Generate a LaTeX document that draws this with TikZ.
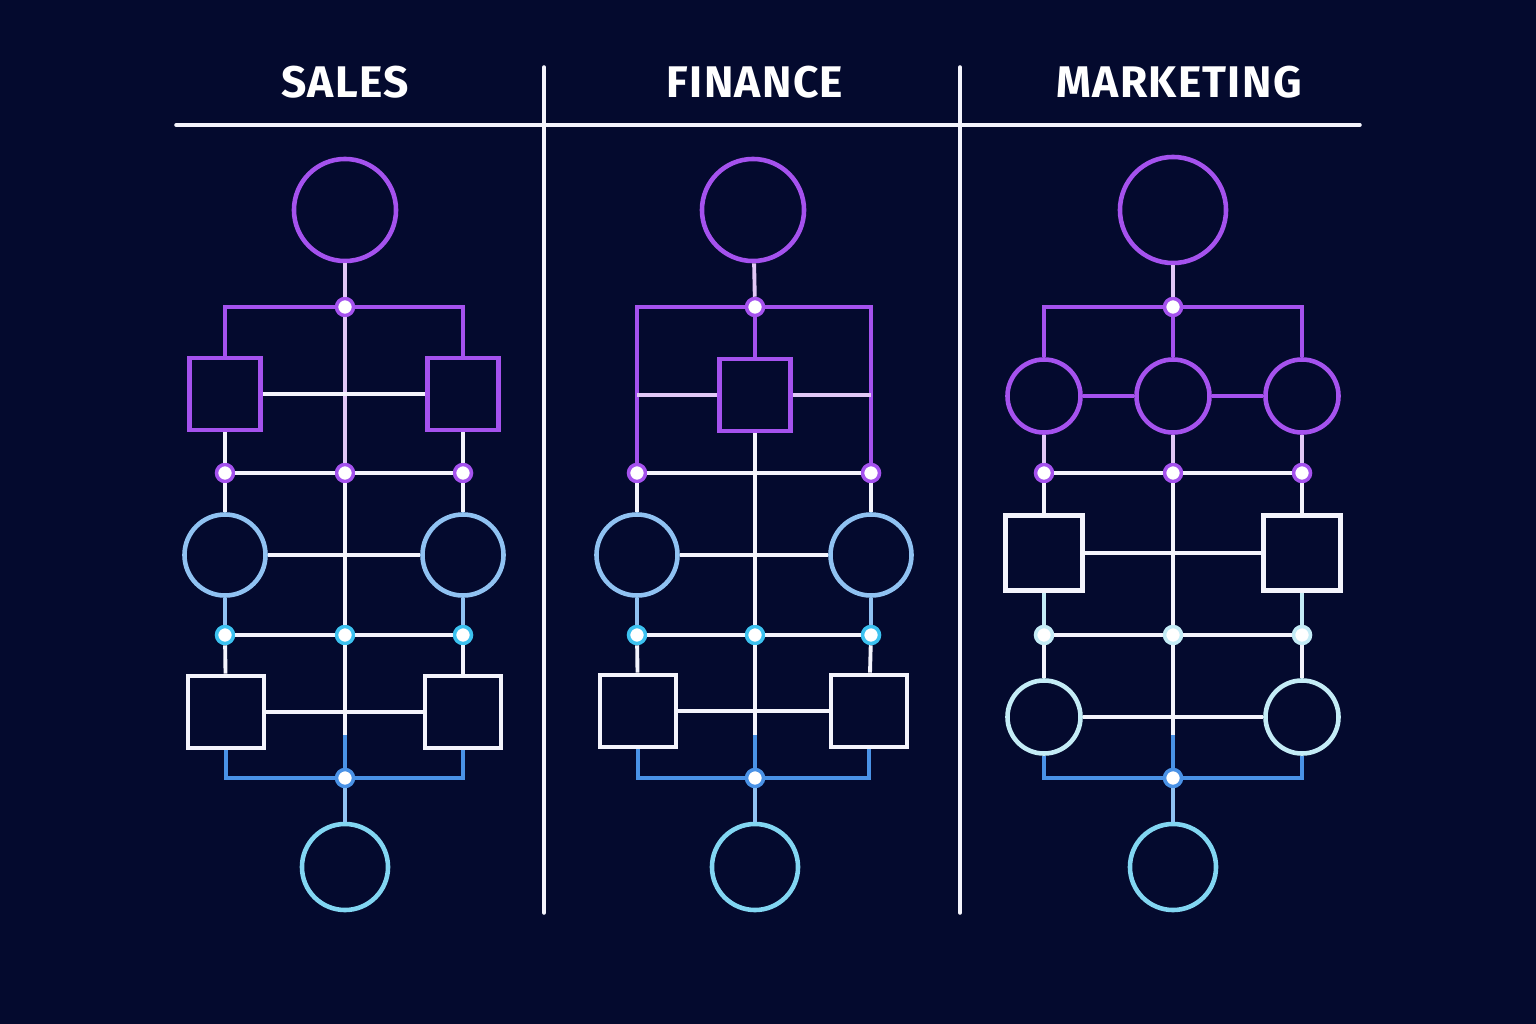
\documentclass[tikz,border=0pt]{standalone}
\usepackage{fontspec}
\setmainfont{Fira Sans}
\newfontfamily\headfont[LetterSpace=3]{Fira Sans}
\definecolor{bg}{HTML}{040A2E}
\definecolor{purp}{HTML}{A552EE}
\definecolor{lilac}{HTML}{E2C8F6}
\definecolor{skyb}{HTML}{90C2F2}
\definecolor{cyanring}{HTML}{3CC2F0}
\definecolor{paleaqua}{HTML}{C4ECF6}
\definecolor{barblue}{HTML}{4A92E6}
\definecolor{aqua}{HTML}{82D6F2}
\definecolor{offwhite}{HTML}{F4F4FC}

\begin{document}
\begin{tikzpicture}[x=0.01cm, y=-0.01cm,
    bigc/.style={circle, draw=#1, line width=1.3pt, fill=bg, inner sep=0pt, minimum size=1.02cm},
    midc/.style={circle, draw=#1, line width=1.3pt, fill=bg, inner sep=0pt, minimum size=0.81cm},
    smallc/.style={circle, draw=#1, line width=1.3pt, fill=bg, inner sep=0pt, minimum size=0.73cm},
    botc/.style={circle, draw=aqua, line width=1.3pt, fill=bg, inner sep=0pt, minimum size=0.86cm},
    sqbox/.style={rectangle, draw=#1, line width=1.3pt, fill=bg, inner sep=0pt, minimum width=0.71cm, minimum height=0.72cm},
    wbox/.style={rectangle, draw=offwhite, line width=1.3pt, fill=bg, inner sep=0pt, minimum width=0.76cm, minimum height=0.72cm},
    jdot/.style={circle, draw=#1, line width=1pt, fill=white, inner sep=0pt, minimum size=0.17cm},
    link/.style={draw=#1, line width=1.1pt},
    rule/.style={draw=offwhite, line width=1pt, line cap=round},
    title/.style={text=white, font=\headfont\bfseries\fontsize{12.6}{15}\selectfont}]
    \fill[bg] (0,0) rectangle (1536,1024);
    \useasboundingbox (0,0) rectangle (1536,1024);

    % headers
    \node[title]  (tsales) at (345,82)  {SALES};
    \node[title]  (tfin)   at (755,82)  {FINANCE};
    \node[title]  (tmkt)   at (1179,82) {MARKETING};
    \coordinate (hl)  at (176,125);
    \coordinate (hr)  at (1360,125);
    \coordinate (d1t) at (544,67);
    \coordinate (d1b) at (544,913);
    \coordinate (d2t) at (960,67);
    \coordinate (d2b) at (960,913);
    \draw[rule] (hl)  -- (hr);
    \draw[rule] (d1t) -- (d1b);
    \draw[rule] (d2t) -- (d2b);

    % sales
    \node[bigc=purp]      (stop)  at (345,210) {};
    \node[jdot=purp]      (sd1)   at (345,307) {};
    \node[sqbox=purp]     (sbl)   at (225,394) {};
    \node[sqbox=purp]     (sbr)   at (463,394) {};
    \node[jdot=purp]      (sdl2)  at (225,473) {};
    \node[jdot=purp]      (sdc2)  at (345,473) {};
    \node[jdot=purp]      (sdr2)  at (463,473) {};
    \node[midc=skyb]      (scl)   at (225,555) {};
    \node[midc=skyb]      (scr)   at (463,555) {};
    \node[jdot=cyanring]  (sdl3)  at (225,635) {};
    \node[jdot=cyanring]  (sdc3)  at (345,635) {};
    \node[jdot=cyanring]  (sdr3)  at (463,635) {};
    \node[wbox]           (swl)   at (226,712) {};
    \node[wbox]           (swr)   at (463,712) {};
    \node[jdot=barblue]   (sd4)   at (345,778) {};
    \node[botc]           (sbot)  at (345,867) {};
    \coordinate (sbend) at (345,735);
    \draw[link=lilac]    (stop) -- (sd1);
    \draw[link=purp]     (sd1) -| (sbl);
    \draw[link=purp]     (sd1) -| (sbr);
    \draw[link=lilac]    (sd1) -- (sdc2);
    \draw[link=offwhite] (sbl) -- (sbr);
    \draw[link=offwhite] (sbl) -- (sdl2);
    \draw[link=offwhite] (sbr) -- (sdr2);
    \draw[link=offwhite] (sdl2) -- (sdc2) -- (sdr2);
    \draw[link=offwhite] (sdl2) -- (scl);
    \draw[link=offwhite] (sdr2) -- (scr);
    \draw[link=offwhite] (scl) -- (scr);
    \draw[link=skyb]     (scl) -- (sdl3);
    \draw[link=skyb]     (scr) -- (sdr3);
    \draw[link=offwhite] (sdc2) -- (sdc3);
    \draw[link=offwhite] (sdl3) -- (sdc3) -- (sdr3);
    \draw[link=offwhite] (sdl3) -- (swl);
    \draw[link=offwhite] (sdr3) -- (swr);
    \draw[link=offwhite] (swl) -- (swr);
    \draw[link=offwhite] (sdc3) -- (sbend);
    \draw[link=barblue]  (sbend) -- (sd4);
    \draw[link=barblue]  (swl) |- (sd4) -| (swr);
    \draw[link=skyb]     (sd4) -- (sbot);

    % finance
    \node[bigc=purp]      (ftop)  at (753,210) {};
    \node[jdot=purp]      (fd1)   at (755,307) {};
    \node[sqbox=purp]     (fbox)  at (755,395) {};
    \node[jdot=purp]      (fdl2)  at (637,473) {};
    \node[jdot=purp]      (fdr2)  at (871,473) {};
    \node[midc=skyb]      (fcl)   at (637,555) {};
    \node[midc=skyb]      (fcr)   at (871,555) {};
    \node[jdot=cyanring]  (fdl3)  at (637,635) {};
    \node[jdot=cyanring]  (fdc3)  at (755,635) {};
    \node[jdot=cyanring]  (fdr3)  at (871,635) {};
    \node[wbox]           (fwl)   at (638,711) {};
    \node[wbox]           (fwr)   at (869,711) {};
    \node[jdot=barblue]   (fd4)   at (755,778) {};
    \node[botc]           (fbot)  at (755,867) {};
    \coordinate (fml)   at (637,395);
    \coordinate (fmr)   at (871,395);
    \coordinate (fbend) at (755,735);
    \draw[link=lilac]    (ftop) -- (fd1);
    \draw[link=purp]     (fd1) -| (fdl2);
    \draw[link=purp]     (fd1) -| (fdr2);
    \draw[link=purp]     (fd1) -- (fbox);
    \draw[link=lilac]    (fml) -- (fbox);
    \draw[link=lilac]    (fbox) -- (fmr);
    \draw[link=offwhite] (fbox) -- (fdc3);
    \draw[link=offwhite] (fdl2) -- (fdr2);
    \draw[link=offwhite] (fdl2) -- (fcl);
    \draw[link=offwhite] (fdr2) -- (fcr);
    \draw[link=offwhite] (fcl) -- (fcr);
    \draw[link=skyb]     (fcl) -- (fdl3);
    \draw[link=skyb]     (fcr) -- (fdr3);
    \draw[link=offwhite] (fdl3) -- (fdc3) -- (fdr3);
    \draw[link=offwhite] (fdl3) -- (fwl);
    \draw[link=offwhite] (fdr3) -- (fwr);
    \draw[link=offwhite] (fwl) -- (fwr);
    \draw[link=offwhite] (fdc3) -- (fbend);
    \draw[link=barblue]  (fbend) -- (fd4);
    \draw[link=barblue]  (fwl) |- (fd4) -| (fwr);
    \draw[link=skyb]     (fd4) -- (fbot);

    % marketing
    \node[bigc=purp, minimum size=1.06cm] (mtop) at (1173,210) {};
    \node[jdot=purp]      (md1)   at (1173,307) {};
    \node[smallc=purp]    (mcl)   at (1044,396) {};
    \node[smallc=purp]    (mcc)   at (1173,396) {};
    \node[smallc=purp]    (mcr)   at (1302,396) {};
    \node[jdot=purp]      (mdl2)  at (1044,473) {};
    \node[jdot=purp]      (mdc2)  at (1173,473) {};
    \node[jdot=purp]      (mdr2)  at (1302,473) {};
    \node[wbox, minimum width=0.77cm, minimum height=0.75cm] (mwl) at (1044,553) {};
    \node[wbox, minimum width=0.77cm, minimum height=0.75cm] (mwr) at (1302,553) {};
    \node[jdot=paleaqua]  (mdl3)  at (1044,635) {};
    \node[jdot=paleaqua]  (mdc3)  at (1173,635) {};
    \node[jdot=paleaqua]  (mdr3)  at (1302,635) {};
    \node[smallc=paleaqua] (mcl2) at (1044,717) {};
    \node[smallc=paleaqua] (mcr2) at (1302,717) {};
    \node[jdot=barblue]   (md4)   at (1173,778) {};
    \node[botc]           (mbot)  at (1173,867) {};
    \coordinate (mbend) at (1173,735);
    \draw[link=lilac]    (mtop) -- (md1);
    \draw[link=purp]     (md1) -| (mcl);
    \draw[link=purp]     (md1) -| (mcr);
    \draw[link=purp]     (md1) -- (mcc);
    \draw[link=purp]     (mcl) -- (mcc) -- (mcr);
    \draw[link=lilac]    (mcl) -- (mdl2);
    \draw[link=lilac]    (mcc) -- (mdc2);
    \draw[link=lilac]    (mcr) -- (mdr2);
    \draw[link=offwhite] (mdl2) -- (mdc2) -- (mdr2);
    \draw[link=offwhite] (mdl2) -- (mwl);
    \draw[link=offwhite] (mdr2) -- (mwr);
    \draw[link=offwhite] (mwl) -- (mwr);
    \draw[link=offwhite] (mdc2) -- (mdc3);
    \draw[link=paleaqua] (mwl) -- (mdl3);
    \draw[link=paleaqua] (mwr) -- (mdr3);
    \draw[link=offwhite] (mdl3) -- (mdc3) -- (mdr3);
    \draw[link=offwhite] (mdl3) -- (mcl2);
    \draw[link=offwhite] (mdr3) -- (mcr2);
    \draw[link=offwhite] (mcl2) -- (mcr2);
    \draw[link=offwhite] (mdc3) -- (mbend);
    \draw[link=barblue]  (mbend) -- (md4);
    \draw[link=barblue]  (mcl2) |- (md4) -| (mcr2);
    \draw[link=skyb]     (md4) -- (mbot);
\end{tikzpicture}
\end{document}
